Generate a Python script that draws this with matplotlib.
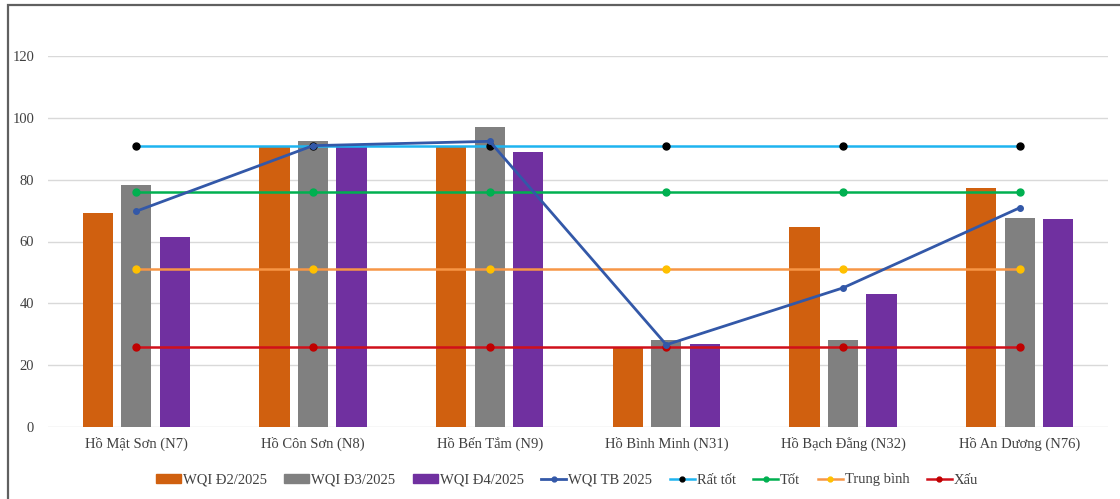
import matplotlib
matplotlib.use("Agg")
import matplotlib.pyplot as plt
import numpy as np
from matplotlib.patches import Rectangle, Patch
from matplotlib.lines import Line2D

plt.rcParams['font.family'] = ['Liberation Serif', 'DejaVu Serif']

lakes = ["Hồ Mật Sơn (N7)", "Hồ Côn Sơn (N8)", "Hồ Bến Tắm (N9)",
         "Hồ Bình Minh (N31)", "Hồ Bạch Đằng (N32)", "Hồ An Dương (N76)"]
wqi_d2 = [69.2, 91.0, 90.6, 25.5, 64.7, 77.4]
wqi_d3 = [78.3, 92.5, 97.1, 28.1, 28.1, 67.6]
wqi_d4 = [61.5, 91.0, 88.9, 26.9, 43.0, 67.3]
wqi_tb = [69.8, 91.0, 92.4, 26.6, 45.0, 70.9]
rat_tot = [91] * 6
tot = [76] * 6
trung_binh = [51] * 6
xau = [26] * 6
yticks = [0, 20, 40, 60, 80, 100, 120]

fig = plt.figure(figsize=(11.2, 4.99), dpi=100)
ax = fig.add_axes([48 / 1120, 1 - 427 / 499, 1060 / 1120, 371 / 499])

x = np.arange(len(lakes))
w = 0.17
off = 0.218
c_d2, c_d3, c_d4 = "#D0600F", "#808080", "#7030A0"
ax.bar(x - off, wqi_d2, w, color=c_d2, zorder=2)
ax.bar(x, wqi_d3, w, color=c_d3, zorder=2)
ax.bar(x + off, wqi_d4, w, color=c_d4, zorder=2)

ax.plot(x, wqi_tb, color="#3358A8", lw=2, marker="o", ms=4, zorder=5)
ax.plot(x, rat_tot, color="#1EB4F0", lw=1.8, marker="o", ms=5,
        mfc="black", mec="black", zorder=4)
ax.plot(x, tot, color="#00B050", lw=1.8, marker="o", ms=5,
        mfc="#00B050", mec="#00B050", zorder=4)
ax.plot(x, trung_binh, color="#F79646", lw=1.8, marker="o", ms=5,
        mfc="#FFC000", mec="#FFC000", zorder=4)
ax.plot(x, xau, color="#D0101A", lw=1.8, marker="o", ms=5,
        mfc="#C00000", mec="#C00000", zorder=4)

ax.set_xlim(-0.5, len(lakes) - 0.5)
ax.set_ylim(0, 120)
ax.set_yticks(yticks)
ax.yaxis.grid(True, color="#D9D9D9", lw=1)
ax.set_axisbelow(True)
for s in ax.spines.values():
    s.set_visible(False)
ax.tick_params(axis="both", length=0, labelsize=10.5, colors="#404040")
ax.tick_params(axis="y", pad=10)
ax.tick_params(axis="x", pad=7)
ax.set_xticks(x)
ax.set_xticklabels(lakes)

handles = [
    Patch(color=c_d2, label="WQI Đ2/2025"),
    Patch(color=c_d3, label="WQI Đ3/2025"),
    Patch(color=c_d4, label="WQI Đ4/2025"),
    Line2D([], [], color="#3358A8", lw=2, marker="o", ms=3.5, label="WQI TB 2025"),
    Line2D([], [], color="#1EB4F0", lw=1.8, marker="o", ms=3.5, mfc="black", mec="black", label="Rất tốt"),
    Line2D([], [], color="#00B050", lw=1.8, marker="o", ms=3.5, label="Tốt"),
    Line2D([], [], color="#F79646", lw=1.8, marker="o", ms=3.5, mfc="#FFC000", mec="#FFC000", label="Trung bình"),
    Line2D([], [], color="#D0101A", lw=1.8, marker="o", ms=3.5, mfc="#C00000", mec="#C00000", label="Xấu"),
]
leg = fig.legend(handles=handles, loc="center", bbox_to_anchor=(567 / 1120, 1 - 480 / 499),
                 ncol=8, frameon=False, fontsize=10.5, handlelength=1.7, handleheight=0.6,
                 columnspacing=1.2, handletextpad=0.15)
for t in leg.get_texts():
    t.set_color("#404040")

# outer frame
fig.add_artist(Rectangle((8 / 1120, -0.2), 1.5, 1.2 - 5 / 499, transform=fig.transFigure,
                         fill=False, edgecolor="#606060", lw=1.6, clip_on=False))

fig.savefig("out.png", dpi=100, facecolor="white")
